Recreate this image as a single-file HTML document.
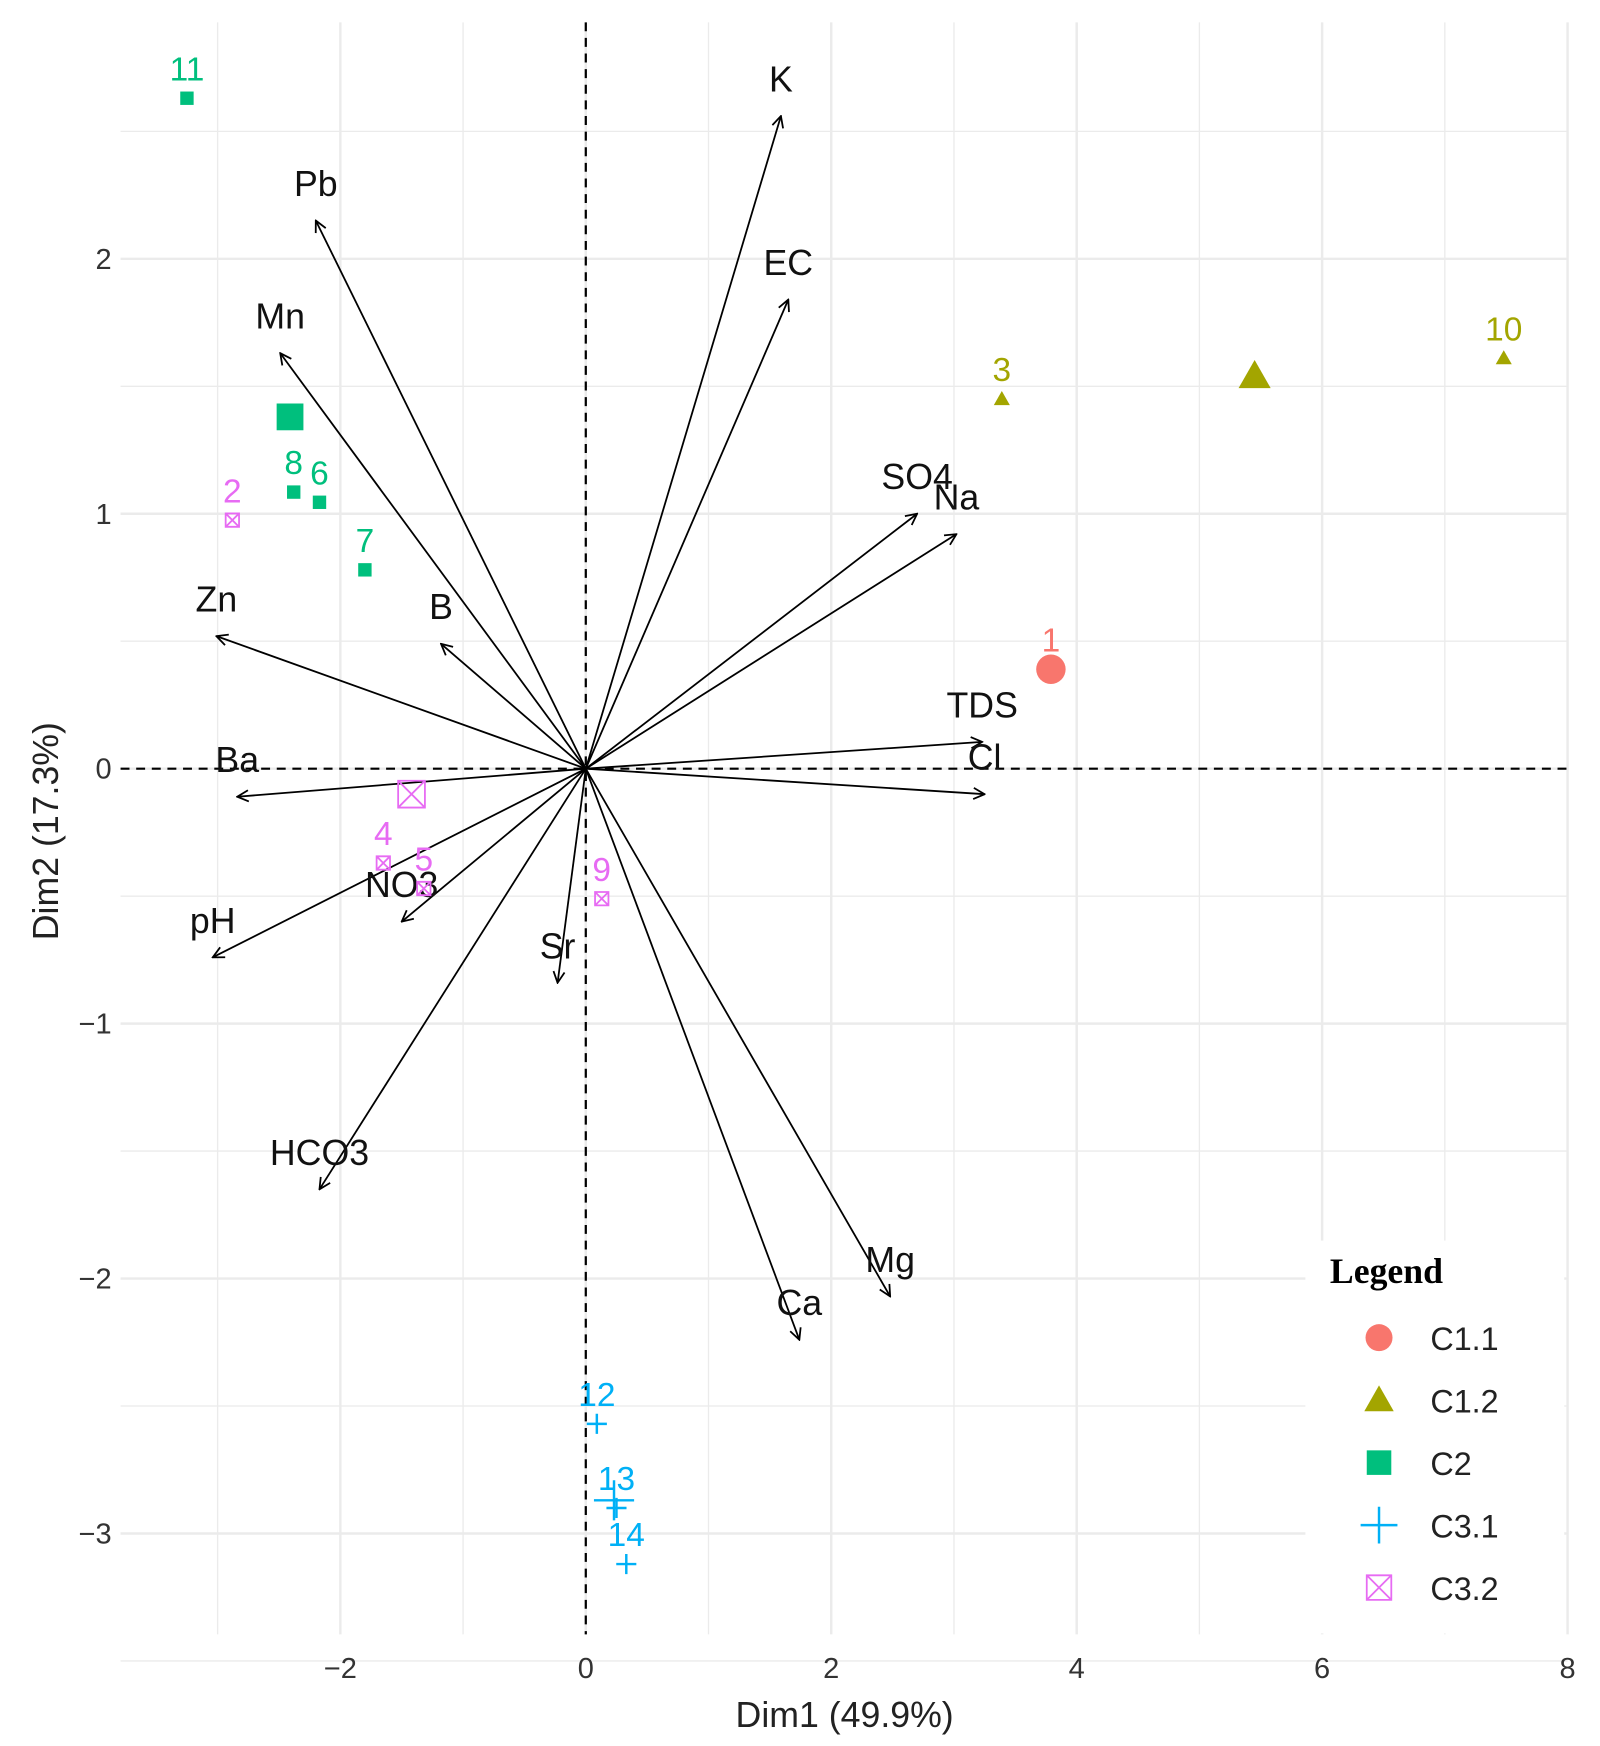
<!DOCTYPE html>
<html><head><meta charset="utf-8"><style>
html,body{margin:0;padding:0;background:#fff}
svg{display:block}
text{font-family:"Liberation Sans",sans-serif}
</style></head><body>
<svg id="chart" width="1600" height="1746" viewBox="0 0 1434 1565" xmlns="http://www.w3.org/2000/svg">
<defs><marker id="ah" viewBox="0 0 12 12" refX="11" refY="6" markerWidth="12" markerHeight="12" markerUnits="userSpaceOnUse" orient="auto"><path d="M1,1 L11,6 L1,11" fill="none" stroke="#000" stroke-width="1.6"/></marker></defs>
<g id="grid"></g>
<g id="axes"></g>
<g id="arrows"></g>
<g id="points"></g>
<g id="legend"></g>
</svg>
<script>
const varNames=["K","EC","Pb","Mn","SO4","Na","Zn","B","TDS","Cl","Ba","pH","NO3","Sr","HCO3","Ca","Mg"];
const varX=[1.59,1.65,-2.2,-2.49,2.7,3.02,-3.01,-1.18,3.23,3.25,-2.84,-3.04,-1.5,-0.23,-2.17,1.74,2.48];
const varY=[2.56,1.84,2.15,1.63,1.0,0.92,0.52,0.49,0.105,-0.1,-0.11,-0.74,-0.6,-0.84,-1.65,-2.24,-2.07];
const ptLabels=["11","8","6","7","2","4","5","9","1","3","10","12","13","14"];
const ptX=[-3.25,-2.38,-2.17,-1.8,-2.88,-1.65,-1.32,0.13,3.79,3.39,7.48,0.09,0.25,0.33];
const ptY=[2.63,1.085,1.045,0.78,0.975,-0.37,-0.47,-0.51,0.39,1.45,1.61,-2.57,-2.9,-3.12];
const ptGroup=["C2","C2","C2","C2","C3.2","C3.2","C3.2","C3.2","C1.1","C1.2","C1.2","C3.1","C3.1","C3.1"];
const groups=["C1.1","C1.2","C2","C3.1","C3.2"];
const centX=[3.79,5.45,-2.41,0.23,-1.42];
const centY=[0.39,1.54,1.38,-2.87,-0.1];
const xTicks=[-2,0,2,4,6,8];
const yTicks=[-3,-2,-1,0,1,2];
const colors={"C1.1":"#F8766D","C1.2":"#A3A500","C2":"#00BF7D","C3.1":"#00B0F6","C3.2":"#E76BF3"};
const NS="http://www.w3.org/2000/svg";
const sx=v=>525+v*110, sy=v=>689-v*228.5;
function mk(t,a,p){const e=document.createElementNS(NS,t);for(const k in a)e.setAttribute(k,a[k]);p.appendChild(e);return e;}
const grid=document.getElementById('grid'),axes=document.getElementById('axes'),arr=document.getElementById('arrows'),pts=document.getElementById('points'),leg=document.getElementById('legend');
for(let v=-3;v<=8;v+=1){const g=mk('line',{x1:sx(v),x2:sx(v),y1:20,y2:1465,stroke:'#ebebeb','stroke-width':v%2===0?2.2:1.2},grid);}
for(let v=-3.5;v<=2.5;v+=0.5){const g=mk('line',{x1:108,x2:1405,y1:sy(v),y2:sy(v),stroke:'#ebebeb','stroke-width':Number.isInteger(v)?2.2:1.2},grid);}
let l=mk('line',{x1:108,x2:1405,y1:sy(0),y2:sy(0),stroke:'#000','stroke-width':2,'stroke-dasharray':'8,6'},axes);

l=mk('line',{x1:sx(0),x2:sx(0),y1:20,y2:1465,stroke:'#000','stroke-width':2,'stroke-dasharray':'8,6'},axes);

xTicks.forEach(v=>{const t=mk('text',{x:sx(v),y:1504,'text-anchor':'middle','font-size':26,fill:'#333'},axes);t.textContent=v<0?'\u2212'+(-v):v;});
yTicks.forEach(v=>{const t=mk('text',{x:100,y:sy(v)+9,'text-anchor':'end','font-size':26,fill:'#333'},axes);t.textContent=v<0?'\u2212'+(-v):v;});
let t=mk('text',{x:757,y:1548,'text-anchor':'middle','font-size':32,fill:'#222'},axes);t.textContent='Dim1 (49.9%)';

t=mk('text',{x:0,y:0,transform:'translate(52,745) rotate(-90)','text-anchor':'middle','font-size':32,fill:'#222'},axes);t.textContent='Dim2 (17.3%)';

varNames.forEach((n,i)=>{
 const a=mk('line',{x1:sx(0),y1:sy(0),x2:sx(varX[i]),y2:sy(varY[i]),stroke:'#000','stroke-width':1.6,'marker-end':'url(#ah)'},arr);
 
 const tx=mk('text',{x:sx(varX[i]),y:sy(varY[i])-22,'text-anchor':'middle','font-size':32,fill:'#111'},arr);tx.textContent=n;
 
});
function symbol(g,x,y,s,p){const c=colors[g];let e;
 if(g==='C1.1')e=mk('circle',{cx:x,cy:y,r:s*0.55,fill:c},p);
 else if(g==='C1.2')e=mk('polygon',{points:`${x},${y-s*0.6} ${x-s*0.6},${y+s*0.45} ${x+s*0.6},${y+s*0.45}`,fill:c},p);
 else if(g==='C2')e=mk('rect',{x:x-s/2,y:y-s/2,width:s,height:s,fill:c},p);
 else if(g==='C3.1')e=mk('path',{d:`M${x-s*0.75},${y}H${x+s*0.75}M${x},${y-s*0.75}V${y+s*0.75}`,stroke:c,'stroke-width':2.2,fill:'none'},p);
 else e=mk('path',{d:`M${x-s/2},${y-s/2}h${s}v${s}h${-s}zM${x-s/2},${y-s/2}L${x+s/2},${y+s/2}M${x+s/2},${y-s/2}L${x-s/2},${y+s/2}`,stroke:c,'stroke-width':1.6,fill:'none'},p);
 return e;}
ptLabels.forEach((n,i)=>{
 const e=symbol(ptGroup[i],sx(ptX[i]),sy(ptY[i]),12,pts);
 
 const tx=mk('text',{x:sx(ptX[i]),y:sy(ptY[i])-16,'text-anchor':'middle','font-size':30,fill:colors[ptGroup[i]]},pts);tx.textContent=n;
 
});
groups.forEach((g,i)=>{const e=symbol(g,sx(centX[i]),sy(centY[i]),24,pts);
 });
const bg=mk('rect',{x:1170,y:1112,width:232,height:352,fill:'#fff'},leg);

t=mk('text',{x:1192,y:1150,'font-size':32,'font-weight':'bold',fill:'#000',style:'font-family:"Liberation Serif",serif'},leg);t.textContent='Legend';

groups.forEach((g,i)=>{const y=1199+i*56;
 const e=symbol(g,1236,y,22,leg);
 const tx=mk('text',{x:1282,y:y+11,'font-size':29,fill:'#222'},leg);tx.textContent=g;
 
});
</script>
</body></html>
